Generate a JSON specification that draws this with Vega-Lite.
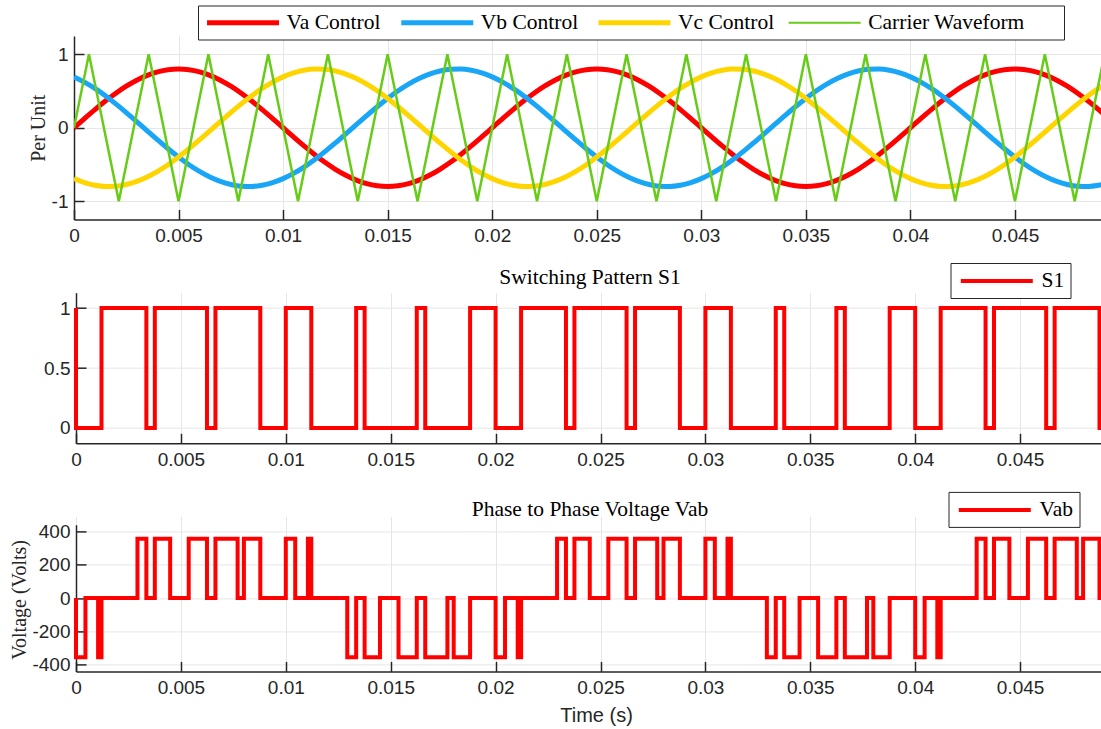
{
  "$schema": "https://vega.github.io/schema/vega-lite/v6.json",
  "background": "white",
  "padding": {"left": 9, "top": 5, "right": 0, "bottom": 0},
  "bounds": "flush",
  "spacing": 72.7,
  "resolve": {
    "scale": {"color": "independent", "strokeWidth": "independent"},
    "legend": {"color": "independent", "strokeWidth": "independent"}
  },
  "config": {
    "view": {"stroke": null},
    "axis": {
      "domainColor": "#262626", "domainWidth": 1.5,
      "tickColor": "#262626", "tickWidth": 1.5, "tickSize": -10,
      "labelColor": "#262626", "labelFont": "Liberation Sans", "labelFontSize": 19,
      "labelFlush": false, "labelOverlap": false,
      "gridColor": "#e6e6e6", "gridWidth": 1,
      "titleFont": "Liberation Serif", "titleFontWeight": "normal", "titleColor": "#262626", "titleFontSize": 20
    },
    "axisX": {"labelPadding": 17},
    "axisY": {"labelPadding": 16},
    "legend": {
      "symbolType": "M-3.6,0H3.6", "symbolSize": 400,
      "labelFont": "Liberation Serif", "labelFontSize": 21.5, "labelColor": "#000000",
      "labelOffset": 32.8, "symbolOffset": 28.3, "padding": 6, "labelLimit": 400,
      "strokeColor": "#262626", "fillColor": "#ffffff"
    }
  },
  "datasets": {
    "sines": [
      {"t":0,"Va Control":0,"Vb Control":0.6928,"Vc Control":-0.6928},
      {"t":0.0005,"Va Control":0.1251,"Vb Control":0.6217,"Vc Control":-0.7469},
      {"t":0.001,"Va Control":0.2472,"Vb Control":0.5353,"Vc Control":-0.7825},
      {"t":0.0015,"Va Control":0.3632,"Vb Control":0.4357,"Vc Control":-0.7989},
      {"t":0.002,"Va Control":0.4702,"Vb Control":0.3254,"Vc Control":-0.7956},
      {"t":0.0025,"Va Control":0.5657,"Vb Control":0.2071,"Vc Control":-0.7727},
      {"t":0.003,"Va Control":0.6472,"Vb Control":0.0836,"Vc Control":-0.7308},
      {"t":0.0035,"Va Control":0.7128,"Vb Control":-0.0419,"Vc Control":-0.6709},
      {"t":0.004,"Va Control":0.7608,"Vb Control":-0.1663,"Vc Control":-0.5945},
      {"t":0.0045,"Va Control":0.7902,"Vb Control":-0.2867,"Vc Control":-0.5035},
      {"t":0.005,"Va Control":0.8,"Vb Control":-0.4,"Vc Control":-0.4},
      {"t":0.0055,"Va Control":0.7902,"Vb Control":-0.5035,"Vc Control":-0.2867},
      {"t":0.006,"Va Control":0.7608,"Vb Control":-0.5945,"Vc Control":-0.1663},
      {"t":0.0065,"Va Control":0.7128,"Vb Control":-0.6709,"Vc Control":-0.0419},
      {"t":0.007,"Va Control":0.6472,"Vb Control":-0.7308,"Vc Control":0.0836},
      {"t":0.0075,"Va Control":0.5657,"Vb Control":-0.7727,"Vc Control":0.2071},
      {"t":0.008,"Va Control":0.4702,"Vb Control":-0.7956,"Vc Control":0.3254},
      {"t":0.0085,"Va Control":0.3632,"Vb Control":-0.7989,"Vc Control":0.4357},
      {"t":0.009,"Va Control":0.2472,"Vb Control":-0.7825,"Vc Control":0.5353},
      {"t":0.0095,"Va Control":0.1251,"Vb Control":-0.7469,"Vc Control":0.6217},
      {"t":0.01,"Va Control":0,"Vb Control":-0.6928,"Vc Control":0.6928},
      {"t":0.0105,"Va Control":-0.1251,"Vb Control":-0.6217,"Vc Control":0.7469},
      {"t":0.011,"Va Control":-0.2472,"Vb Control":-0.5353,"Vc Control":0.7825},
      {"t":0.0115,"Va Control":-0.3632,"Vb Control":-0.4357,"Vc Control":0.7989},
      {"t":0.012,"Va Control":-0.4702,"Vb Control":-0.3254,"Vc Control":0.7956},
      {"t":0.0125,"Va Control":-0.5657,"Vb Control":-0.2071,"Vc Control":0.7727},
      {"t":0.013,"Va Control":-0.6472,"Vb Control":-0.0836,"Vc Control":0.7308},
      {"t":0.0135,"Va Control":-0.7128,"Vb Control":0.0419,"Vc Control":0.6709},
      {"t":0.014,"Va Control":-0.7608,"Vb Control":0.1663,"Vc Control":0.5945},
      {"t":0.0145,"Va Control":-0.7902,"Vb Control":0.2867,"Vc Control":0.5035},
      {"t":0.015,"Va Control":-0.8,"Vb Control":0.4,"Vc Control":0.4},
      {"t":0.0155,"Va Control":-0.7902,"Vb Control":0.5035,"Vc Control":0.2867},
      {"t":0.016,"Va Control":-0.7608,"Vb Control":0.5945,"Vc Control":0.1663},
      {"t":0.0165,"Va Control":-0.7128,"Vb Control":0.6709,"Vc Control":0.0419},
      {"t":0.017,"Va Control":-0.6472,"Vb Control":0.7308,"Vc Control":-0.0836},
      {"t":0.0175,"Va Control":-0.5657,"Vb Control":0.7727,"Vc Control":-0.2071},
      {"t":0.018,"Va Control":-0.4702,"Vb Control":0.7956,"Vc Control":-0.3254},
      {"t":0.0185,"Va Control":-0.3632,"Vb Control":0.7989,"Vc Control":-0.4357},
      {"t":0.019,"Va Control":-0.2472,"Vb Control":0.7825,"Vc Control":-0.5353},
      {"t":0.0195,"Va Control":-0.1251,"Vb Control":0.7469,"Vc Control":-0.6217},
      {"t":0.02,"Va Control":0,"Vb Control":0.6928,"Vc Control":-0.6928},
      {"t":0.0205,"Va Control":0.1251,"Vb Control":0.6217,"Vc Control":-0.7469},
      {"t":0.021,"Va Control":0.2472,"Vb Control":0.5353,"Vc Control":-0.7825},
      {"t":0.0215,"Va Control":0.3632,"Vb Control":0.4357,"Vc Control":-0.7989},
      {"t":0.022,"Va Control":0.4702,"Vb Control":0.3254,"Vc Control":-0.7956},
      {"t":0.0225,"Va Control":0.5657,"Vb Control":0.2071,"Vc Control":-0.7727},
      {"t":0.023,"Va Control":0.6472,"Vb Control":0.0836,"Vc Control":-0.7308},
      {"t":0.0235,"Va Control":0.7128,"Vb Control":-0.0419,"Vc Control":-0.6709},
      {"t":0.024,"Va Control":0.7608,"Vb Control":-0.1663,"Vc Control":-0.5945},
      {"t":0.0245,"Va Control":0.7902,"Vb Control":-0.2867,"Vc Control":-0.5035},
      {"t":0.025,"Va Control":0.8,"Vb Control":-0.4,"Vc Control":-0.4},
      {"t":0.0255,"Va Control":0.7902,"Vb Control":-0.5035,"Vc Control":-0.2867},
      {"t":0.026,"Va Control":0.7608,"Vb Control":-0.5945,"Vc Control":-0.1663},
      {"t":0.0265,"Va Control":0.7128,"Vb Control":-0.6709,"Vc Control":-0.0419},
      {"t":0.027,"Va Control":0.6472,"Vb Control":-0.7308,"Vc Control":0.0836},
      {"t":0.0275,"Va Control":0.5657,"Vb Control":-0.7727,"Vc Control":0.2071},
      {"t":0.028,"Va Control":0.4702,"Vb Control":-0.7956,"Vc Control":0.3254},
      {"t":0.0285,"Va Control":0.3632,"Vb Control":-0.7989,"Vc Control":0.4357},
      {"t":0.029,"Va Control":0.2472,"Vb Control":-0.7825,"Vc Control":0.5353},
      {"t":0.0295,"Va Control":0.1251,"Vb Control":-0.7469,"Vc Control":0.6217},
      {"t":0.03,"Va Control":0,"Vb Control":-0.6928,"Vc Control":0.6928},
      {"t":0.0305,"Va Control":-0.1251,"Vb Control":-0.6217,"Vc Control":0.7469},
      {"t":0.031,"Va Control":-0.2472,"Vb Control":-0.5353,"Vc Control":0.7825},
      {"t":0.0315,"Va Control":-0.3632,"Vb Control":-0.4357,"Vc Control":0.7989},
      {"t":0.032,"Va Control":-0.4702,"Vb Control":-0.3254,"Vc Control":0.7956},
      {"t":0.0325,"Va Control":-0.5657,"Vb Control":-0.2071,"Vc Control":0.7727},
      {"t":0.033,"Va Control":-0.6472,"Vb Control":-0.0836,"Vc Control":0.7308},
      {"t":0.0335,"Va Control":-0.7128,"Vb Control":0.0419,"Vc Control":0.6709},
      {"t":0.034,"Va Control":-0.7608,"Vb Control":0.1663,"Vc Control":0.5945},
      {"t":0.0345,"Va Control":-0.7902,"Vb Control":0.2867,"Vc Control":0.5035},
      {"t":0.035,"Va Control":-0.8,"Vb Control":0.4,"Vc Control":0.4},
      {"t":0.0355,"Va Control":-0.7902,"Vb Control":0.5035,"Vc Control":0.2867},
      {"t":0.036,"Va Control":-0.7608,"Vb Control":0.5945,"Vc Control":0.1663},
      {"t":0.0365,"Va Control":-0.7128,"Vb Control":0.6709,"Vc Control":0.0419},
      {"t":0.037,"Va Control":-0.6472,"Vb Control":0.7308,"Vc Control":-0.0836},
      {"t":0.0375,"Va Control":-0.5657,"Vb Control":0.7727,"Vc Control":-0.2071},
      {"t":0.038,"Va Control":-0.4702,"Vb Control":0.7956,"Vc Control":-0.3254},
      {"t":0.0385,"Va Control":-0.3632,"Vb Control":0.7989,"Vc Control":-0.4357},
      {"t":0.039,"Va Control":-0.2472,"Vb Control":0.7825,"Vc Control":-0.5353},
      {"t":0.0395,"Va Control":-0.1251,"Vb Control":0.7469,"Vc Control":-0.6217},
      {"t":0.04,"Va Control":0,"Vb Control":0.6928,"Vc Control":-0.6928},
      {"t":0.0405,"Va Control":0.1251,"Vb Control":0.6217,"Vc Control":-0.7469},
      {"t":0.041,"Va Control":0.2472,"Vb Control":0.5353,"Vc Control":-0.7825},
      {"t":0.0415,"Va Control":0.3632,"Vb Control":0.4357,"Vc Control":-0.7989},
      {"t":0.042,"Va Control":0.4702,"Vb Control":0.3254,"Vc Control":-0.7956},
      {"t":0.0425,"Va Control":0.5657,"Vb Control":0.2071,"Vc Control":-0.7727},
      {"t":0.043,"Va Control":0.6472,"Vb Control":0.0836,"Vc Control":-0.7308},
      {"t":0.0435,"Va Control":0.7128,"Vb Control":-0.0419,"Vc Control":-0.6709},
      {"t":0.044,"Va Control":0.7608,"Vb Control":-0.1663,"Vc Control":-0.5945},
      {"t":0.0445,"Va Control":0.7902,"Vb Control":-0.2867,"Vc Control":-0.5035},
      {"t":0.045,"Va Control":0.8,"Vb Control":-0.4,"Vc Control":-0.4},
      {"t":0.0455,"Va Control":0.7902,"Vb Control":-0.5035,"Vc Control":-0.2867},
      {"t":0.046,"Va Control":0.7608,"Vb Control":-0.5945,"Vc Control":-0.1663},
      {"t":0.0465,"Va Control":0.7128,"Vb Control":-0.6709,"Vc Control":-0.0419},
      {"t":0.047,"Va Control":0.6472,"Vb Control":-0.7308,"Vc Control":0.0836},
      {"t":0.0475,"Va Control":0.5657,"Vb Control":-0.7727,"Vc Control":0.2071},
      {"t":0.048,"Va Control":0.4702,"Vb Control":-0.7956,"Vc Control":0.3254},
      {"t":0.0485,"Va Control":0.3632,"Vb Control":-0.7989,"Vc Control":0.4357},
      {"t":0.049,"Va Control":0.2472,"Vb Control":-0.7825,"Vc Control":0.5353},
      {"t":0.0495,"Va Control":0.1251,"Vb Control":-0.7469,"Vc Control":0.6217},
      {"t":0.05,"Va Control":0,"Vb Control":-0.6928,"Vc Control":0.6928}
    ],
    "carrier": [
      {"t":0,"Carrier Waveform":0},
      {"t":0.00071429,"Carrier Waveform":1},
      {"t":0.0021429,"Carrier Waveform":-1},
      {"t":0.0035714,"Carrier Waveform":1},
      {"t":0.005,"Carrier Waveform":-1},
      {"t":0.0064286,"Carrier Waveform":1},
      {"t":0.0078571,"Carrier Waveform":-1},
      {"t":0.0092857,"Carrier Waveform":1},
      {"t":0.0107143,"Carrier Waveform":-1},
      {"t":0.0121429,"Carrier Waveform":1},
      {"t":0.0135714,"Carrier Waveform":-1},
      {"t":0.015,"Carrier Waveform":1},
      {"t":0.0164286,"Carrier Waveform":-1},
      {"t":0.0178571,"Carrier Waveform":1},
      {"t":0.0192857,"Carrier Waveform":-1},
      {"t":0.0207143,"Carrier Waveform":1},
      {"t":0.0221429,"Carrier Waveform":-1},
      {"t":0.0235714,"Carrier Waveform":1},
      {"t":0.025,"Carrier Waveform":-1},
      {"t":0.0264286,"Carrier Waveform":1},
      {"t":0.0278571,"Carrier Waveform":-1},
      {"t":0.0292857,"Carrier Waveform":1},
      {"t":0.0307143,"Carrier Waveform":-1},
      {"t":0.0321429,"Carrier Waveform":1},
      {"t":0.0335714,"Carrier Waveform":-1},
      {"t":0.035,"Carrier Waveform":1},
      {"t":0.0364286,"Carrier Waveform":-1},
      {"t":0.0378571,"Carrier Waveform":1},
      {"t":0.0392857,"Carrier Waveform":-1},
      {"t":0.0407143,"Carrier Waveform":1},
      {"t":0.0421429,"Carrier Waveform":-1},
      {"t":0.0435714,"Carrier Waveform":1},
      {"t":0.045,"Carrier Waveform":-1},
      {"t":0.0464286,"Carrier Waveform":1},
      {"t":0.0478571,"Carrier Waveform":-1},
      {"t":0.0492857,"Carrier Waveform":1},
      {"t":0.0507143,"Carrier Waveform":-1}
    ],
    "s1": [
      {"t":0,"S1":1},{"t":0,"S1":0},
      {"t":0.0012156,"S1":1},{"t":0.0033538,"S1":0},{"t":0.0037573,"S1":1},{"t":0.0062427,"S1":0},
      {"t":0.0066462,"S1":1},{"t":0.0087844,"S1":0},{"t":0.01,"S1":1},{"t":0.0112156,"S1":0},
      {"t":0.0133538,"S1":1},{"t":0.0137573,"S1":0},{"t":0.0162427,"S1":1},{"t":0.0166462,"S1":0},
      {"t":0.0187844,"S1":1},{"t":0.02,"S1":0},
      {"t":0.0212156,"S1":1},{"t":0.0233538,"S1":0},{"t":0.0237573,"S1":1},{"t":0.0262427,"S1":0},
      {"t":0.0266462,"S1":1},{"t":0.0287844,"S1":0},{"t":0.03,"S1":1},{"t":0.0312156,"S1":0},
      {"t":0.0333538,"S1":1},{"t":0.0337573,"S1":0},{"t":0.0362427,"S1":1},{"t":0.0366462,"S1":0},
      {"t":0.0387844,"S1":1},{"t":0.04,"S1":0},
      {"t":0.0412156,"S1":1},{"t":0.0433538,"S1":0},{"t":0.0437573,"S1":1},{"t":0.0462427,"S1":0},
      {"t":0.0466462,"S1":1},{"t":0.0487844,"S1":0},{"t":0.05,"S1":1}
    ],
    "vab": [
      {"t":0,"Vab":0},{"t":0,"Vab":-355},
      {"t":0.00044972,"Vab":0},{"t":0.0010534,"Vab":-355},{"t":0.0012156,"Vab":0},
      {"t":0.0029294,"Vab":355},{"t":0.0033538,"Vab":0},{"t":0.0037573,"Vab":355},
      {"t":0.0044886,"Vab":0},{"t":0.0053727,"Vab":355},{"t":0.0062427,"Vab":0},
      {"t":0.0066462,"Vab":355},{"t":0.0077031,"Vab":0},{"t":0.0080031,"Vab":355},
      {"t":0.0087844,"Vab":0},{"t":0.01,"Vab":355},{"t":0.0104497,"Vab":0},
      {"t":0.0110534,"Vab":355},{"t":0.0112156,"Vab":0},{"t":0.0129294,"Vab":-355},
      {"t":0.0133538,"Vab":0},{"t":0.0137573,"Vab":-355},{"t":0.0144886,"Vab":0},
      {"t":0.0153727,"Vab":-355},{"t":0.0162427,"Vab":0},{"t":0.0166462,"Vab":-355},
      {"t":0.0177031,"Vab":0},{"t":0.0180031,"Vab":-355},{"t":0.0187844,"Vab":0},
      {"t":0.02,"Vab":-355},
      {"t":0.0204497,"Vab":0},{"t":0.0210534,"Vab":-355},{"t":0.0212156,"Vab":0},
      {"t":0.0229294,"Vab":355},{"t":0.0233538,"Vab":0},{"t":0.0237573,"Vab":355},
      {"t":0.0244886,"Vab":0},{"t":0.0253727,"Vab":355},{"t":0.0262427,"Vab":0},
      {"t":0.0266462,"Vab":355},{"t":0.0277031,"Vab":0},{"t":0.0280031,"Vab":355},
      {"t":0.0287844,"Vab":0},{"t":0.03,"Vab":355},{"t":0.0304497,"Vab":0},
      {"t":0.0310534,"Vab":355},{"t":0.0312156,"Vab":0},{"t":0.0329294,"Vab":-355},
      {"t":0.0333538,"Vab":0},{"t":0.0337573,"Vab":-355},{"t":0.0344886,"Vab":0},
      {"t":0.0353727,"Vab":-355},{"t":0.0362427,"Vab":0},{"t":0.0366462,"Vab":-355},
      {"t":0.0377031,"Vab":0},{"t":0.0380031,"Vab":-355},{"t":0.0387844,"Vab":0},
      {"t":0.04,"Vab":-355},
      {"t":0.0404497,"Vab":0},{"t":0.0410534,"Vab":-355},{"t":0.0412156,"Vab":0},
      {"t":0.0429294,"Vab":355},{"t":0.0433538,"Vab":0},{"t":0.0437573,"Vab":355},
      {"t":0.0444886,"Vab":0},{"t":0.0453727,"Vab":355},{"t":0.0462427,"Vab":0},
      {"t":0.0466462,"Vab":355},{"t":0.0477031,"Vab":0},{"t":0.0480031,"Vab":355},
      {"t":0.0487844,"Vab":0},{"t":0.05,"Vab":355}
    ]
  },
  "vconcat": [
    {
      "width": 1027,
      "height": 183.5,
      "layer": [
        {
          "data": {"name": "sines"},
          "transform": [{"fold": ["Va Control", "Vb Control", "Vc Control"], "as": ["series", "v"]}],
          "mark": {"type": "line", "interpolate": "monotone", "clip": true},
          "encoding": {
            "x": {
              "field": "t", "type": "quantitative",
              "scale": {"domain": [0, 0.049115], "nice": false, "zero": false},
              "axis": {"values": [0,0.005,0.01,0.015,0.02,0.025,0.03,0.035,0.04,0.045], "labelExpr": "'' + datum.value", "title": null, "grid": true}
            },
            "y": {
              "field": "v", "type": "quantitative",
              "scale": {"domain": [-1.25, 1.25], "nice": false, "zero": false},
              "axis": {"values": [-1, 0, 1], "labelExpr": "'' + datum.value", "grid": true, "title": "Per Unit", "titleX": -36, "titleY": 91.75, "titleAngle": 270, "titleAlign": "center", "titleBaseline": "middle"}
            },
            "color": {
              "field": "series", "type": "nominal",
              "scale": {"domain": ["Va Control", "Vb Control", "Vc Control", "Carrier Waveform"], "range": ["#ff0000", "#1aa6f7", "#ffd500", "#66cc17"]},
              "legend": {
                "orient": "none", "legendX": 124, "legendY": -30.5,
                "direction": "horizontal", "columns": 4,
                "title": "\u00a0", "titleOrient": "right", "titlePadding": 33, "titleFontSize": 4,
                "columnPadding": 10.2,
                "encode": {"symbols": {"update": {"strokeWidth": {"signal": "datum.value === 'Carrier Waveform' ? 2 : 5"}}}}
              }
            },
            "strokeWidth": {
              "field": "series", "type": "nominal",
              "scale": {"type": "ordinal", "domain": ["Va Control", "Vb Control", "Vc Control", "Carrier Waveform"], "range": [5, 5, 5, 2]},
              "legend": null
            }
          }
        },
        {
          "data": {"name": "carrier"},
          "transform": [{"fold": ["Carrier Waveform"], "as": ["series", "v"]}],
          "mark": {"type": "line", "clip": true},
          "encoding": {
            "x": {"field": "t", "type": "quantitative"},
            "y": {"field": "v", "type": "quantitative"},
            "color": {"field": "series", "type": "nominal"},
            "strokeWidth": {"field": "series", "type": "nominal", "legend": null}
          }
        }
      ]
    },
    {
      "width": 1027,
      "height": 150.6,
      "title": {"text": "Switching Pattern S1", "frame": "group", "offset": 13.7, "dy": 51, "baseline": "middle", "font": "Liberation Serif", "fontSize": 21.5, "fontWeight": "normal", "color": "#000000", "dx": 2.5},
      "data": {"name": "s1"},
      "transform": [{"fold": ["S1"], "as": ["series", "v"]}],
      "mark": {"type": "line", "interpolate": "step-after", "clip": true, "strokeWidth": 4},
      "encoding": {
        "x": {
          "field": "t", "type": "quantitative",
          "scale": {"domain": [0, 0.048856], "range": [2, 1027], "nice": false, "zero": false},
          "axis": {"values": [0,0.005,0.01,0.015,0.02,0.025,0.03,0.035,0.04,0.045], "labelExpr": "'' + datum.value", "title": null, "grid": true}
        },
        "y": {
          "field": "v", "type": "quantitative",
          "scale": {"domain": [-0.128, 1.128], "nice": false, "zero": false},
          "axis": {"values": [0, 0.5, 1], "labelExpr": "'' + datum.value", "grid": true, "title": null, "offset": -2}
        },
        "color": {
          "field": "series", "type": "nominal",
          "scale": {"range": ["#ff0000"]},
          "legend": {"orient": "none", "legendX": 876.5, "legendY": -29.7, "title": null, "symbolStrokeWidth": 4}
        }
      }
    },
    {
      "width": 1027,
      "height": 155,
      "title": {"text": "Phase to Phase Voltage Vab", "frame": "group", "offset": 6, "dy": 46, "baseline": "middle", "font": "Liberation Serif", "fontSize": 21.5, "fontWeight": "normal", "color": "#000000", "dx": 2.5},
      "data": {"name": "vab"},
      "transform": [{"fold": ["Vab"], "as": ["series", "v"]}],
      "mark": {"type": "line", "interpolate": "step-after", "clip": true, "strokeWidth": 4},
      "encoding": {
        "x": {
          "field": "t", "type": "quantitative",
          "scale": {"domain": [0, 0.048856], "range": [2, 1027], "nice": false, "zero": false},
          "axis": {"values": [0,0.005,0.01,0.015,0.02,0.025,0.03,0.035,0.04,0.045], "labelExpr": "'' + datum.value", "grid": true, "title": "Time (s)", "titleFont": "Liberation Sans", "titleFontSize": 20, "titleX": 522, "titleY": 44, "titleAlign": "center", "titleBaseline": "middle"}
        },
        "y": {
          "field": "v", "type": "quantitative",
          "scale": {"domain": [-440, 440], "range": [155, 8.3], "nice": false, "zero": false},
          "axis": {"values": [-400, -200, 0, 200, 400], "labelExpr": "'' + datum.value", "grid": true, "offset": -2, "title": "Voltage (Volts)", "titleX": -56.8, "titleY": 83, "titleAngle": 270, "titleAlign": "center", "titleBaseline": "middle"}
        },
        "color": {
          "field": "series", "type": "nominal",
          "scale": {"range": ["#ff0000"]},
          "legend": {"orient": "none", "legendX": 874.5, "legendY": -24.5, "title": null, "symbolStrokeWidth": 4}
        }
      }
    }
  ]
}
